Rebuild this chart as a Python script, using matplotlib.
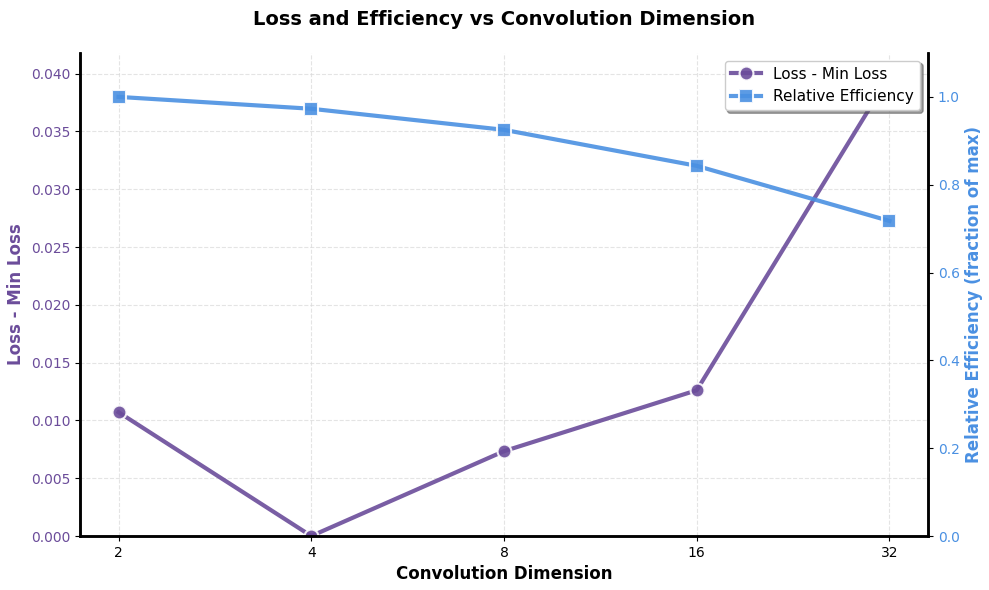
import numpy as np
import matplotlib
matplotlib.use("Agg")
import matplotlib.pyplot as plt

conv_dims = [2, 4, 8, 16, 32]
loss_minus_min = [0.01071, 0.0, 0.00734, 0.01261, 0.0398]
rel_efficiency = [1.0, 0.973, 0.925, 0.843, 0.7175]

PURPLE = "#6b4c9a"
BLUE = "#4a90e2"

fig, ax1 = plt.subplots(figsize=(9.89, 5.9), dpi=100)
ax2 = ax1.twinx()

l1, = ax1.plot(conv_dims, loss_minus_min, color=PURPLE, lw=3, marker="o", ms=10,
               mec="white", mew=1.5, alpha=0.9, label="Loss - Min Loss")
l2, = ax2.plot(conv_dims, rel_efficiency, color=BLUE, lw=3, marker="s", ms=10,
               mec="white", mew=1.5, alpha=0.9, label="Relative Efficiency")

ax1.set_xscale("log", base=2)
ax1.set_xticks(conv_dims)
ax1.set_xticklabels([str(d) for d in conv_dims])
ax1.minorticks_off()
ax1.set_xlim(2 / 2**0.2, 32 * 2**0.2)
ax1.set_ylim(0, max(loss_minus_min) * 1.05)
ax2.set_ylim(0, 1.1)

ax1.set_xlabel("Convolution Dimension", fontsize=12, fontweight="bold")
ax1.set_ylabel("Loss - Min Loss", fontsize=12, fontweight="bold", color=PURPLE)
ax2.set_ylabel("Relative Efficiency (fraction of max)", fontsize=12, fontweight="bold", color=BLUE)
ax1.tick_params(axis="y", labelcolor=PURPLE)
ax2.tick_params(axis="y", labelcolor=BLUE)

ax1.grid(True, ls="--", color="0.85", alpha=0.7)
for ax in (ax1, ax2):
    ax.spines["top"].set_visible(False)
    for s in ("left", "right", "bottom"):
        ax.spines[s].set_linewidth(1.8)

ax1.set_title("Loss and Efficiency vs Convolution Dimension", fontsize=14, fontweight="bold", pad=20)
ax2.legend([l1, l2], [l1.get_label(), l2.get_label()], loc="upper right",
           fontsize=11, shadow=True, frameon=True, fancybox=True)

fig.subplots_adjust(left=0.0809, right=0.9383, top=0.9102, bottom=0.0915)
fig.savefig("out.png", dpi=100)
